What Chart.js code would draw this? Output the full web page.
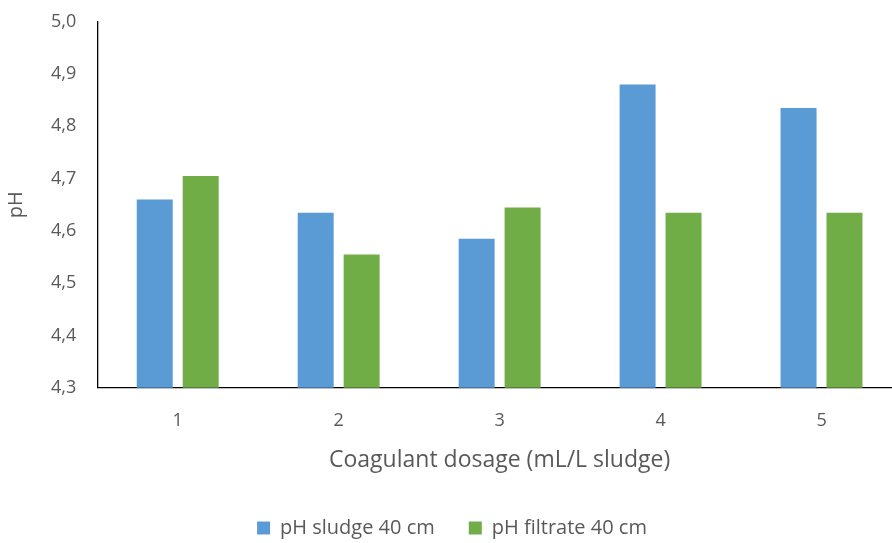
<!DOCTYPE html>
<html><head><meta charset="utf-8">
<script src="https://cdn.jsdelivr.net/npm/chart.js@4"></script>
<style>html,body{margin:0;padding:0;background:#fff;overflow:hidden;width:892px;height:543px}</style>
</head><body>
<canvas id="c" width="904" height="552"></canvas>
<script>
const categories = ["1", "2", "3", "4", "5"];
const phSludge = [4.66, 4.635, 4.585, 4.88, 4.835];
const phFiltrate = [4.705, 4.555, 4.645, 4.635, 4.635];
const seriesNames = ["pH sludge 40 cm", "pH filtrate 40 cm"];
const yMin = 4.3, yMax = 5.0, yStep = 0.1;

const FONT = "'Open Sans', sans-serif";
const TXT = "#595959";
new Chart(document.getElementById('c'), {
  type: 'bar',
  data: {
    labels: categories,
    datasets: [
      {label: seriesNames[0], data: phSludge, backgroundColor: '#5B9BD5', borderWidth: 0,
       categoryPercentage: 0.571, barPercentage: 0.783},
      {label: seriesNames[1], data: phFiltrate, backgroundColor: '#70AD47', borderWidth: 0,
       categoryPercentage: 0.571, barPercentage: 0.783}
    ]
  },
  options: {
    responsive: false,
    animation: false,
    layout: {padding: {top: 0, right: 2, left: 2, bottom: 4}},
    plugins: {
      tooltip: {enabled: false},
      legend: {
        position: 'bottom',
        labels: {color: TXT, font: {family: FONT, size: 20}, boxWidth: 13, boxHeight: 13, padding: 34}
      }
    },
    scales: {
      x: {
        grid: {display: false, tickLength: 8},
        border: {display: true, color: '#000', width: 1.3},
        ticks: {color: TXT, font: {family: FONT, size: 18}, padding: 14},
        title: {display: true, text: 'Coagulant dosage (mL/L sludge)', color: TXT,
                font: {family: FONT, size: 23}, padding: {top: 1, bottom: 10}}
      },
      y: {
        min: yMin, max: yMax,
        grid: {display: false, tickLength: 10},
        border: {display: true, color: '#000', width: 1.3},
        ticks: {stepSize: yStep, color: TXT, font: {family: FONT, size: 18}, padding: 11,
                callback: v => v.toFixed(1).replace('.', ',')},
        title: {display: true, text: 'pH', color: TXT, font: {family: FONT, size: 20}, padding: {top: 2, bottom: 12}}
      }
    }
  }
});
</script>
</body></html>
